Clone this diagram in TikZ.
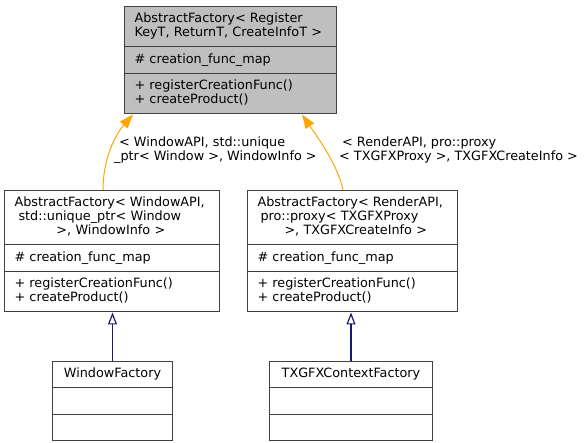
\documentclass[tikz,border=0pt]{standalone}
\usepackage{fontspec}
\setmainfont{DejaVu Sans}
\usepackage{tikz}
\usetikzlibrary{shapes.multipart,arrows.meta,positioning}
\definecolor{boxEdge}{HTML}{404040}
\definecolor{baseFill}{HTML}{BFBFBF}
\definecolor{templLine}{HTML}{FFA500}
\definecolor{inhLine}{HTML}{191970}

\begin{document}
\begin{tikzpicture}[x=1pt,y=-1pt,
  every node/.style={font=\fontsize{12.8}{14}\selectfont},
  umlclass/.style={rectangle split,rectangle split parts=3,draw=boxEdge,line width=1pt,
    fill=white,anchor=north west,inner xsep=10pt,inner ysep=5.75pt,align=left},
  templedge/.style={draw=templLine,line width=1pt,-{Triangle[length=14pt,width=10pt,fill=templLine]}},
  inhedge/.style={draw=inhLine,line width=1.2pt,-{Triangle[open,length=12pt,width=9pt,fill=white]}}]
  \useasboundingbox (0,0) rectangle (587,443);

  % Template base class
  \node[umlclass,fill=baseFill,text width=192pt] (base) at (124,6) {\strut AbstractFactory< Register\\KeyT, ReturnT, CreateInfoT >\strut
    \nodepart{two}\strut\# creation\_func\_map
    \nodepart{three}\strut + registerCreationFunc()\\+ createProduct()\strut};

  % Template instances
  \node[umlclass,text width=195pt] (absWin) at (4,190) {\strut AbstractFactory< WindowAPI,\\\hspace*{4pt}std::unique\_ptr< Window\\\hspace*{42pt}>, WindowInfo >\strut
    \nodepart{two}\strut\# creation\_func\_map
    \nodepart{three}\strut + registerCreationFunc()\\+ createProduct()\strut};
  \node[umlclass,text width=190pt] (absRender) at (247,190) {\strut AbstractFactory< RenderAPI,\\\hspace*{3pt}pro::proxy< TXGFXProxy\\\hspace*{27pt}>, TXGFXCreateInfo >\strut
    \nodepart{two}\strut\# creation\_func\_map
    \nodepart{three}\strut + registerCreationFunc()\\+ createProduct()\strut};

  % Concrete factories
  \node[umlclass,align=center,text width=100pt] (winFactory) at (52,361) {\strut WindowFactory
    \nodepart{two}\strut
    \nodepart{three}\strut};
  \node[umlclass,align=center,text width=143pt] (ctxFactory) at (269,361) {\strut TXGFXContextFactory
    \nodepart{two}\strut
    \nodepart{three}\strut};

  % Template arguments
  \node[anchor=north west,inner sep=0pt,align=left] (lblWin) at (114,137) {\hspace*{5pt}< WindowAPI, std::unique\\\_ptr< Window >, WindowInfo >};
  \node[anchor=north west,inner sep=0pt,align=left] (lblRender) at (339,137) {\hspace*{3pt}< RenderAPI, pro::proxy\\< TXGFXProxy >, TXGFXCreateInfo >};

  % Instantiation edges
  \draw[templedge] ([xshift=-9pt]absWin.north) .. controls +(0,-35) and +(-15,17) .. ([xshift=-97.5pt]base.south);
  \draw[templedge] ([xshift=-9.5pt]absRender.north) .. controls +(-5,-25) and +(15,22) .. ([xshift=71.5pt]base.south);

  % Inheritance edges
  \draw[inhedge] (winFactory.north) -- (winFactory.north |- absWin.south);
  \draw[inhedge] (ctxFactory.north) -- (ctxFactory.north |- absRender.south);
\end{tikzpicture}
\end{document}
